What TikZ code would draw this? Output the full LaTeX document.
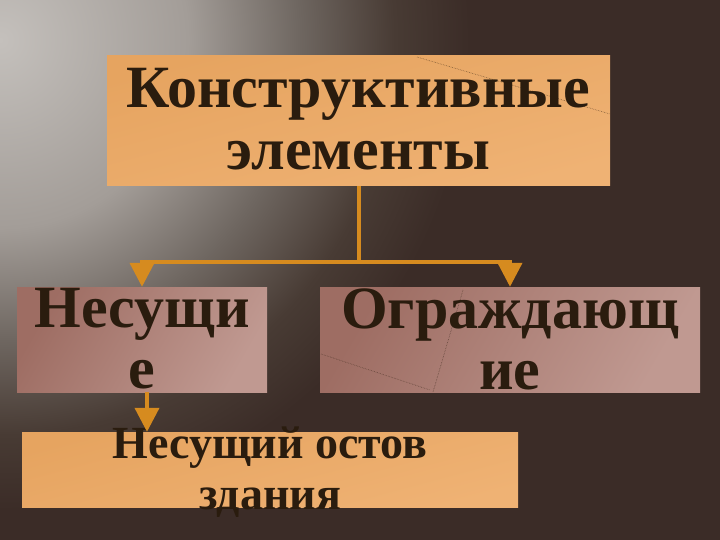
\documentclass[tikz,border=0pt]{standalone}
\usepackage{fontspec}
\setmainfont{Liberation Serif}
\usetikzlibrary{arrows.meta}
\definecolor{bgdark}{HTML}{3B2C27}
\definecolor{bgA}{HTML}{C4C0BC}
\definecolor{bgB}{HTML}{A39D98}
\definecolor{bgC}{HTML}{6E6660}
\definecolor{bgD}{HTML}{483B34}
\definecolor{orgL}{HTML}{FBCA9C}
\definecolor{orgD}{HTML}{E6A460}
\definecolor{orgE}{HTML}{EFB274}
\definecolor{pinkL}{HTML}{CBA69E}
\definecolor{pinkD}{HTML}{9E6D63}
\definecolor{pinkM}{HTML}{C09991}
\definecolor{conncol}{HTML}{D68B1F}
\definecolor{txtcol}{HTML}{2A1C0E}
\pgfdeclareradialshading{bgrad}{\pgfpoint{0bp}{0bp}}{color(0bp)=(bgA); color(10bp)=(bgB); color(16bp)=(bgC); color(21bp)=(bgD); color(25bp)=(bgdark); color(50bp)=(bgdark)}
\tikzset{
  obox/.style={rectangle, inner sep=0pt, left color=orgD, middle color=orgL, right color=orgE, shading angle=15},
  pbox/.style={rectangle, inner sep=0pt, left color=pinkD, middle color=pinkL, right color=pinkM, shading angle=60},
  txt/.style={inner sep=0pt, align=center, text=txtcol},
  conn/.style={draw=conncol, line width=4pt},
  arr/.style={-{Triangle[width=24pt,length=24pt]}},
  artifact/.style={draw=txtcol, densely dotted, line width=0.6pt, opacity=0.55}
}
\begin{document}
\begin{tikzpicture}[x=1pt,y=-1pt]
\useasboundingbox (0,0) rectangle (720,540);
\fill[bgdark] (0,0) rectangle (720,540);
\begin{scope}
\clip (0,0) rectangle (720,540);
\shade[shading=bgrad] (0,40) circle[radius=470pt];
\end{scope}
% boxes
\node[obox, minimum width=503pt, minimum height=130pt] (top) at (358.5,121) {};
\node[pbox, minimum width=250pt, minimum height=105pt] (nes) at (142,339.5) {};
\node[pbox, minimum width=380pt, minimum height=105pt] (ogr) at (510,339.5) {};
\node[obox, minimum width=496pt, minimum height=75pt] (ost) at (270,469.5) {};
% faint marks
\draw[artifact] (417,57) -- (610,114);
\draw[artifact] (321,354) -- (430,390);
\draw[artifact] (463,290) -- (433,392);
% texts
\node[txt, font=\bfseries\fontsize{60}{62}\selectfont] (toptxt) at (358.5,119) {Конструктивные\\элементы};
\node[txt, font=\bfseries\fontsize{60}{61}\selectfont] (nestxt) at (142,339) {Несущи\\е};
\node[txt, font=\bfseries\fontsize{60}{61}\selectfont] (ogrtxt) at (510,339) {Ограждающ\\ие};
\node[txt, font=\bfseries\fontsize{46}{51}\selectfont] (osttxt) at (270,472) {Несущий остов\\здания};
% connectors
\path (top.south) ++(0,76) coordinate (j);
\draw[conn] (top.south) -- (j);
\draw[conn, arr] (j) -| (nes.north);
\draw[conn, arr] (j) -| (ogr.north);
\draw[conn, arr] ([xshift=5pt]nes.south) -- ([xshift=5pt]nes.south |- ost.north);
\end{tikzpicture}
\end{document}
